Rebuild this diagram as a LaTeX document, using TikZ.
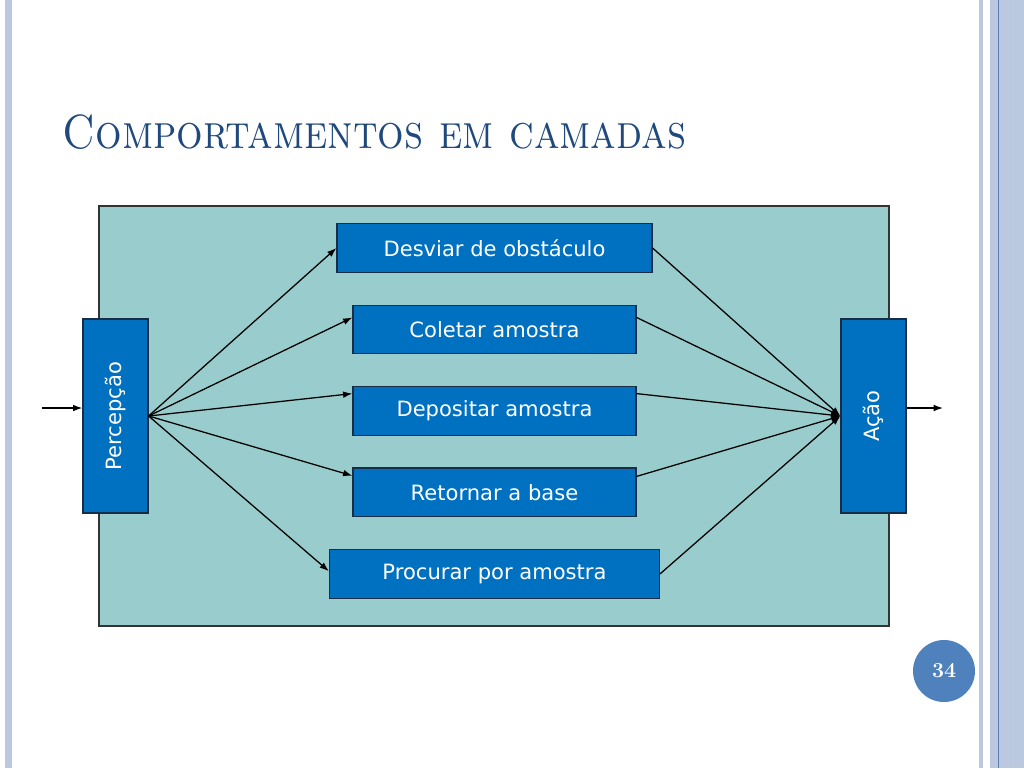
\documentclass[tikz,border=0pt]{standalone}
\usepackage{fontspec}
\usepackage{graphicx}
\usepackage{tikz}
\usetikzlibrary{positioning,arrows.meta}
\newfontfamily\boxfont{DejaVu Sans}
\definecolor{boardfill}{RGB}{153,204,204}
\definecolor{boxblue}{RGB}{0,112,192}
\definecolor{boxedge}{RGB}{25,45,70}
\definecolor{titleblue}{RGB}{31,73,125}
\definecolor{numblue}{RGB}{79,129,189}
\definecolor{stripe}{RGB}{188,200,224}
\definecolor{stripeline}{RGB}{90,125,180}

\begin{document}
\begin{tikzpicture}[x=0.75pt, y=-0.75pt, node distance={23.7pt},
    layer/.style = {draw=boxedge, line width=0.9pt, fill=boxblue, text=white, font=\boxfont\fontsize{15.8}{18}\selectfont, minimum height=36.5pt, inner sep=0pt},
    side/.style = {draw=boxedge, line width=0.9pt, fill=boxblue, text=white, font=\boxfont\fontsize{15.8}{18}\selectfont, minimum width=48.75pt, minimum height=145.5pt, inner sep=0pt},
    link/.style = {-{Latex[length=7pt, width=5pt]}, line width=0.95pt}]
    \useasboundingbox (0,0) rectangle (1024,768);
    % side stripes
    \fill[stripe] (5,0) rectangle (12,768);
    \fill[stripe] (979,0) rectangle (983,768);
    \fill[stripe] (990,0) rectangle (1024,768);
    \draw[stripeline, line width=0.75pt] (998,0) -- (998,768);
    \draw[stripeline!40, line width=0.6pt] (1008,0) -- (1008,768);
    \node[anchor=base west, text=titleblue, font=\fontsize{36}{40}\selectfont\scshape] (title) at (58,148) {\scalebox{0.87}[1]{Comportamentos em camadas}};
    % board
    \draw[fill=boardfill, draw=black!80, line width=1pt] (99,206) rectangle (889,626);
    \node[side] (perc) at (115.5,416) {\rotatebox{90}{Percepção}};
    \node[side] (acao) at (873.5,416) {\rotatebox{90}{Ação}};
    \node[layer, minimum width=236.25pt] (desv) at (494.5,248) {Desviar de obstáculo};
    \node[layer, minimum width=212.25pt] (col) [below=of desv] {Coletar amostra};
    \node[layer, minimum width=212.25pt] (dep) [below=of col] {Depositar amostra};
    \node[layer, minimum width=212.25pt] (ret) [below=of dep] {Retornar a base};
    \node[layer, minimum width=247.5pt] (proc) [below=of ret] {Procurar por amostra};
    % fan out
    \draw[link] (perc.east) -- (desv.west);
    \draw[link] (perc.east) -- ([yshift=9pt]col.west);
    \draw[link] (perc.east) -- ([yshift=13pt]dep.west);
    \draw[link] (perc.east) -- ([yshift=12.5pt]ret.west);
    \draw[link] (perc.east) -- ([yshift=2pt]proc.west);
    % fan in
    \draw[link] (desv.east) -- (acao.west);
    \draw[link] ([yshift=9pt]col.east) -- (acao.west);
    \draw[link] ([yshift=13pt]dep.east) -- (acao.west);
    \draw[link] ([yshift=12pt]ret.east) -- (acao.west);
    \draw[link] (proc.east) -- (acao.west);
    % in and out
    \coordinate (in) at (42,408);
    \coordinate (out) at (943,408);
    \draw[link] (in) -- (in -| perc.west);
    \draw[link] (out -| acao.east) -- (out);
    \node[circle, fill=numblue, minimum size=46.5pt, text=white, font=\fontsize{16}{18}\selectfont\bfseries] (page) at (944,671) {34};
\end{tikzpicture}
\end{document}
